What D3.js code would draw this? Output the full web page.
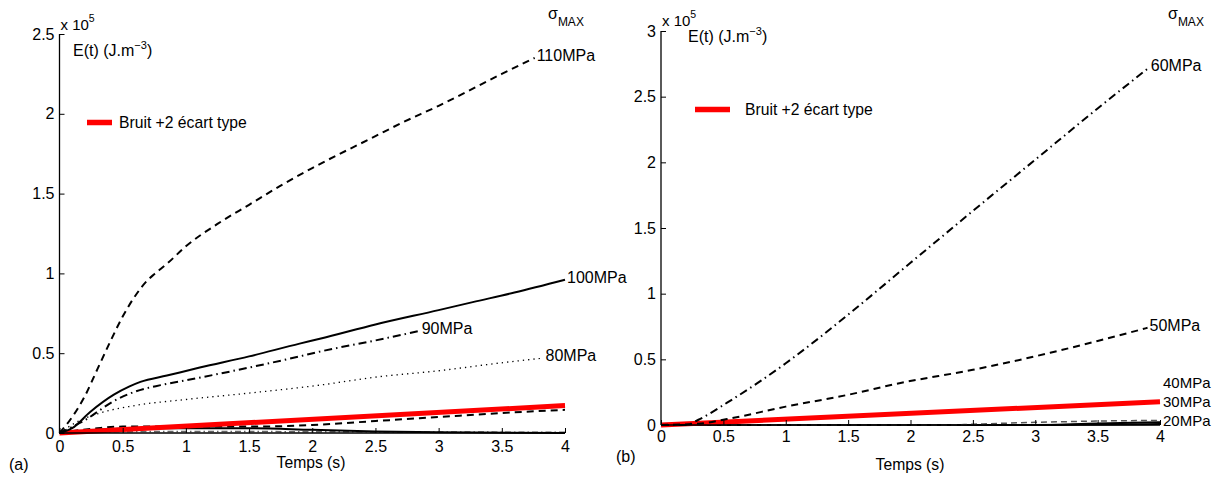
<!DOCTYPE html>
<html><head><meta charset="utf-8">
<script src="https://cdn.jsdelivr.net/npm/d3@7"></script>
<style>
body{margin:0;background:#fff;}
text{font-family:"Liberation Sans",Arial,sans-serif;fill:#000;}
</style></head>
<body><svg id="c" width="1218" height="481"></svg>
<script>
// ---------- data (values in units of 1e5 J.m^-3) ----------
const xTicks = [0, 0.5, 1, 1.5, 2, 2.5, 3, 3.5, 4];
const yTicksA = [0, 0.5, 1, 1.5, 2, 2.5];
const yTicksB = [0, 0.5, 1, 1.5, 2, 2.5, 3];

// panel (a)
const a110 = [[0,0],[0.1,0.1],[0.2,0.23],[0.3,0.4],[0.4,0.57],[0.5,0.73],[0.6,0.86],[0.7,0.96],[0.75,0.995],[0.85,1.06],[1.0,1.17],[1.25,1.31],[1.5,1.43],[1.75,1.55],[2.0,1.66],[2.5,1.86],[2.7,1.94],[3.0,2.05],[3.5,2.25],[3.76,2.35]];
const a100 = [[0,0],[0.1,0.03],[0.24,0.13],[0.43,0.24],[0.55,0.29],[0.64,0.32],[0.85,0.36],[1.11,0.41],[1.5,0.48],[1.9,0.56],[2.06,0.59],[2.5,0.68],[3.0,0.77],[3.27,0.82],[3.6,0.88],[4.0,0.96]];
const a90  = [[0,0],[0.2,0.08],[0.43,0.2],[0.6,0.26],[0.8,0.3],[1.0,0.33],[1.5,0.41],[1.9,0.48],[2.06,0.51],[2.5,0.58],[2.85,0.64]];
const a80  = [[0,0],[0.14,0.07],[0.3,0.12],[0.58,0.17],[1.0,0.21],[1.5,0.25],[2.06,0.3],[2.5,0.35],[3.0,0.39],[3.5,0.44],[3.83,0.47]];
const a70  = [[0,0],[0.3,0.03],[0.5,0.04],[1.0,0.04],[1.5,0.04],[2.0,0.05],[2.5,0.075],[3.0,0.1],[3.5,0.125],[4.0,0.145]];
const a60  = [[0,0],[0.3,0.02],[0.6,0.03],[1.0,0.03],[1.5,0.03],[2.0,0.02],[2.5,0.01],[3.0,0.004],[4.0,0.0]];
const a50  = [[0,0],[0.5,0.008],[1.0,0.01],[2.0,0.008],[3.0,0.006],[4.0,0.005]];
const aNoise = [[0,0],[4.0,0.172]];

// panel (b)
const b60 = [[0,0],[0.2,0.0],[0.3,0.04],[0.53,0.17],[0.79,0.33],[1.0,0.47],[1.25,0.65],[1.5,0.84],[2.0,1.235],[2.5,1.63],[3.0,2.02],[3.5,2.41],[3.91,2.72]];
const b50 = [[0,0],[0.3,0.01],[0.53,0.045],[1.0,0.14],[1.5,0.23],[1.92,0.32],[2.5,0.42],[3.12,0.55],[3.5,0.64],[3.9,0.74]];
const b40 = [[0,0],[2.3,0.0],[2.5,0.006],[3.0,0.02],[3.5,0.03],[4.0,0.035]];
const b30 = [[0,0],[3.0,0.0],[3.5,0.012],[4.0,0.02]];
const b20 = [[0,0],[3.0,0.0],[4.0,0.008]];
const bNoise = [[0,0],[4.0,0.177]];

const labelsA = ["110MPa","100MPa","90MPa","80MPa"];
const labelsB = ["60MPa","50MPa","40MPa","30MPa","20MPa"];
const labelAnchorB = [null, null, 0.32, 0.18, 0.03]; // label heights for crowded curves
const legendText = "Bruit +2 écart type";

// ---------- styles ----------
const styles = {
  dashed: {dash:"7,5", w:2, c:"#000"},
  solid: {dash:null, w:2, c:"#000"},
  dashdot: {dash:"8,4,1.5,4", w:2, c:"#000"},
  dotted: {dash:"1.3,4", w:1.3, c:"#000"},
  gdash: {dash:"6,4", w:1.5, c:"#555"},
  gdashdot: {dash:"6,3,1.5,3", w:1.5, c:"#666"},
  red: {dash:null, w:5, c:"#f00"}
};

const svg = d3.select("#c");

function panel(cfg){
  const x = d3.scaleLinear().domain([0,4]).range([cfg.x0, cfg.x1]);
  const y = d3.scaleLinear().domain([0, cfg.ymax]).range([cfg.y0, cfg.y1]);
  const g = svg.append("g");
  const line = d3.line().x(d=>x(d[0])).y(d=>y(d[1])).curve(d3.curveMonotoneX);

  cfg.series.forEach(s=>{
    const st = styles[s.style];
    g.append("path").attr("d", line(s.data)).attr("fill","none")
      .attr("stroke", st.c).attr("stroke-width", st.w)
      .attr("stroke-dasharray", st.dash).attr("stroke-linejoin","round");
  });

  const xa = d3.axisBottom(x).tickValues(xTicks).tickSize(-5).tickPadding(cfg.xPad)
     .tickFormat(d3.format("~g"));
  const ya = d3.axisLeft(y).tickValues(cfg.yticks).tickSize(-5).tickPadding(5)
     .tickFormat(d3.format("~g"));
  const gx = g.append("g").attr("transform",`translate(0,${cfg.y0})`).call(xa);
  const gy = g.append("g").attr("transform",`translate(${cfg.x0},0)`).call(ya);
  [gx,gy].forEach(ax=>{
    ax.select(".domain").attr("stroke","#000").attr("stroke-width",1.3)
      .attr("d", ax===gx ? `M${cfg.x0},0H${cfg.x1}` : `M0,${cfg.y0}V${cfg.y1}`);
    ax.selectAll(".tick line").attr("stroke","#000").attr("stroke-width",1);
    ax.selectAll(".tick text").attr("font-size","16px").attr("fill","#000")
      .style("font-family","Liberation Sans, Arial, sans-serif");
  });
  gx.selectAll(".tick text").attr("dy","0.71em");

  cfg.series.forEach(s=>{
    if(!s.label) return;
    const last = s.data[s.data.length-1];
    const yy = s.anchor!=null ? y(s.anchor) : y(last[1]) - 3;
    const xx = s.anchor!=null ? cfg.labX : x(last[0]) + 2;
    g.append("text").attr("x", xx).attr("y", yy).attr("dy","0.36em")
      .attr("font-size", s.anchor!=null ? "15px" : "16px").text(s.label);
  });

  const ex = g.append("text").attr("x", cfg.x0 + 1).attr("y", cfg.expY).attr("font-size","15px");
  ex.append("tspan").text("x 10");
  ex.append("tspan").attr("dy","-8").attr("font-size","10.5px").text("5");
  const ul = g.append("text").attr("x", cfg.unitX).attr("y", cfg.unitY).attr("font-size","16px");
  ul.append("tspan").text("E(t) (J.m");
  ul.append("tspan").attr("dy","-7").attr("font-size","11px").text("\u22123");
  ul.append("tspan").attr("dy","7").text(")");
  const sg = g.append("text").attr("x", cfg.sigX).attr("y", cfg.sigY).attr("font-size","16px");
  sg.append("tspan").text("\u03c3");
  sg.append("tspan").attr("dy","7").attr("font-size","12px").text("MAX");

  g.append("line").attr("x1",cfg.legX).attr("x2",cfg.legX+cfg.legW)
    .attr("y1",cfg.legY).attr("y2",cfg.legY).attr("stroke","#f00").attr("stroke-width",5.5);
  g.append("text").attr("x",cfg.legTX).attr("y",cfg.legY).attr("dy","0.36em")
    .attr("font-size","15.7px").text(legendText);

  g.append("text").attr("x", cfg.titleX).attr("y", cfg.titleY).attr("text-anchor","middle")
    .attr("font-size","15.7px").text("Temps (s)");
  g.append("text").attr("x", cfg.tagX).attr("y", cfg.tagY).attr("font-size","16px").text(cfg.tag);
}

panel({
  x0:59.5, x1:565, y0:433, y1:34, ymax:2.5, yticks:yTicksA, xPad:8,
  series:[
    {data:a50, style:"gdashdot"},
    {data:a60, style:"solid"},
    {data:a70, style:"dashed"},
    {data:aNoise, style:"red"},
    {data:a80, style:"dotted", label:labelsA[3]},
    {data:a90, style:"dashdot", label:labelsA[2]},
    {data:a100, style:"solid", label:labelsA[1]},
    {data:a110, style:"dashed", label:labelsA[0]}
  ],
  expY:30, unitX:73, unitY:56, sigX:548, sigY:19,
  legX:87, legW:25, legY:122.5, legTX:119,
  titleX:311, titleY:468, tagX:9, tagY:470, tag:"(a)"
});

panel({
  x0:661, x1:1160, y0:425, y1:31, ymax:3, yticks:yTicksB, xPad:6,
  series:[
    {data:b20, style:"solid", label:labelsB[4], anchor:labelAnchorB[4]},
    {data:b30, style:"solid", label:labelsB[3], anchor:labelAnchorB[3]},
    {data:b40, style:"gdash", label:labelsB[2], anchor:labelAnchorB[2]},
    {data:bNoise, style:"red"},
    {data:b50, style:"dashed", label:labelsB[1]},
    {data:b60, style:"dashdot", label:labelsB[0]}
  ],
  labX:1163,
  expY:26, unitX:688, unitY:42, sigX:1168, sigY:19,
  legX:695, legW:35, legY:109.5, legTX:745,
  titleX:910, titleY:470, tagX:616, tagY:462, tag:"(b)"
});
</script></body></html>
